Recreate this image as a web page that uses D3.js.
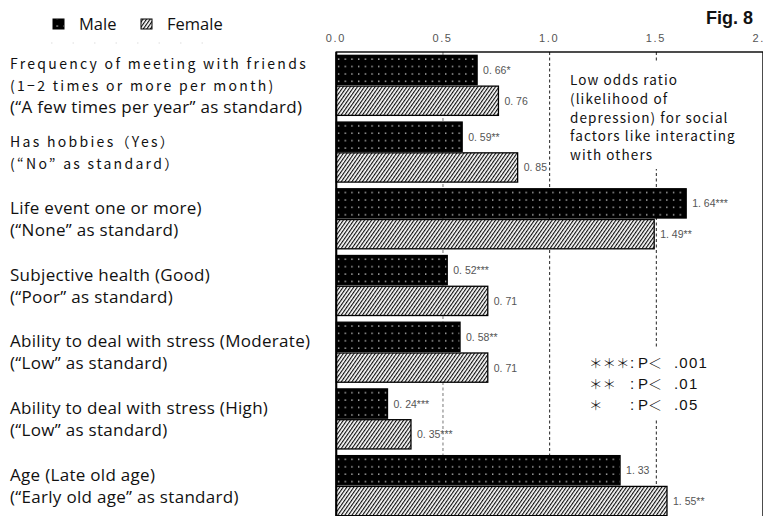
<!DOCTYPE html>
<html>
<head>
<meta charset="utf-8">
<script src="https://cdn.jsdelivr.net/npm/d3@7"></script>
<style>
  body { margin: 0; background: #fff; }
  svg { display: block; }
</style>
</head>
<body>
<svg id="chart" width="763" height="516"></svg>
<script>
// Factor labels (each entry is one factor, split into its printed lines)
const categories = [
  ["Frequency of meeting with friends", "(1−2 times or more per month)", "(“A few times per year” as standard)"],
  ["Has hobbies（Yes）", "(“No” as standard）"],
  ["Life event one or more)", "(“None” as standard)"],
  ["Subjective health (Good)", "(“Poor” as standard)"],
  ["Ability to deal with stress (Moderate)", "(“Low” as standard)"],
  ["Ability to deal with stress (High)", "(“Low” as standard)"],
  ["Age (Late old age)", "(“Early old age” as standard)"]
];

// Odds ratios and significance markers
const maleOdds    = [0.66, 0.59, 1.64, 0.52, 0.58, 0.24, 1.33];
const maleStars   = ["*", "**", "***", "***", "**", "***", ""];
const femaleOdds  = [0.76, 0.85, 1.49, 0.71, 0.71, 0.35, 1.55];
const femaleStars = ["", "", "**", "", "", "***", "**"];

const seriesNames = ["Male", "Female"];
const xTicks = [0, 0.5, 1.0, 1.5, 2.0];

const noteLines = [
  "Low odds ratio",
  "(likelihood of",
  "depression) for social",
  "factors like interacting",
  "with others"
];
const pLegendStars = ["＊＊＊", "＊＊", "＊"];
const pLegendValues = [".001", ".01", ".05"];

const figureTitle = "Fig. 8";

// ---------------------------------------------------------------
const svg = d3.select("#chart");
const plotTop = 52, plotBottom = 519;

const x = d3.scaleLinear().domain([0, 2]).range([336.3, 763]);
const y = d3.scaleBand()
  .domain(d3.range(categories.length))
  .range([plotTop, plotBottom])
  .paddingInner(0.1)
  .paddingOuter(0.05);
const ySub = d3.scaleBand()
  .domain(seriesNames)
  .range([0, y.bandwidth()])
  .paddingInner(0.05);

// Fill patterns: white dots on black (male), diagonal hatching (female)
const defs = svg.append("defs");
const dots = defs.append("pattern")
  .attr("id", "dots").attr("patternUnits", "userSpaceOnUse")
  .attr("width", 6.7).attr("height", 7.4);
dots.append("rect").attr("width", 6.7).attr("height", 7.4).attr("fill", "#000");
dots.append("rect").attr("x", 3).attr("y", 3.2).attr("width", 1.2).attr("height", 1.2).attr("fill", "#fff");

const hatch = defs.append("pattern")
  .attr("id", "hatch").attr("patternUnits", "userSpaceOnUse")
  .attr("width", 2.9).attr("height", 2.9)
  .attr("patternTransform", "rotate(35)");
hatch.append("rect").attr("width", 2.9).attr("height", 2.9).attr("fill", "#fff");
hatch.append("line").attr("x1", 0.6).attr("y1", 0).attr("x2", 0.6).attr("y2", 2.9)
  .attr("stroke", "#000").attr("stroke-width", 1.1);

const fillFor = { Male: "url(#dots)", Female: "url(#hatch)" };

// Legend
const legend = svg.append("g");
const legendX = [53, 141];
seriesNames.forEach((name, i) => {
  legend.append("rect")
    .attr("x", legendX[i]).attr("y", 19).attr("width", 11).attr("height", 10)
    .attr("fill", fillFor[name]).attr("stroke", "#000").attr("stroke-width", 1);
  legend.append("text")
    .attr("x", legendX[i] + 26).attr("y", 30)
    .attr("font-family", "'Open Sans', Lato, sans-serif").attr("font-size", 16.5)
    .attr("fill", "#111").text(name);
});
legend.append("line")
  .attr("x1", 51).attr("x2", 210).attr("y1", 43).attr("y2", 43)
  .attr("stroke", "#ddd").attr("stroke-width", 1.2).attr("stroke-dasharray", "1.5,20");

// Title
svg.append("text")
  .attr("x", 753).attr("y", 24).attr("text-anchor", "end")
  .attr("font-family", "'Liberation Sans', Arial, sans-serif")
  .attr("font-weight", "bold").attr("font-size", 18).attr("fill", "#111")
  .text(figureTitle);

// Top axis labels
const axis = d3.axisTop(x).tickValues(xTicks).tickSize(0).tickPadding(0)
  .tickFormat(d3.format(".1f"));
const axisG = svg.append("g").attr("transform", `translate(0,${plotTop - 10})`).call(axis);
axisG.select(".domain").remove();
axisG.selectAll("text")
  .attr("font-family", "'Liberation Sans', Arial, sans-serif")
  .attr("font-size", 11).attr("fill", "#555")
  .attr("letter-spacing", 1.6).attr("dx", -1).attr("dy", 0);

// Gridlines
svg.append("g").selectAll("line")
  .data(xTicks.filter(t => t > 0 && t < 2))
  .join("line")
  .attr("x1", d => x(d)).attr("x2", d => x(d))
  .attr("y1", plotTop).attr("y2", plotBottom)
  .attr("stroke", d => d === 0.5 ? "#777" : "#222")
  .attr("stroke-width", 1)
  .attr("stroke-dasharray", "3,2.5");

// Bars
const rows = categories.map((c, i) => ({
  i,
  values: [
    { series: "Male", value: maleOdds[i], stars: maleStars[i] },
    { series: "Female", value: femaleOdds[i], stars: femaleStars[i] }
  ]
}));

const groups = svg.append("g").selectAll("g")
  .data(rows).join("g")
  .attr("transform", d => `translate(0,${y(d.i)})`);

groups.selectAll("rect")
  .data(d => d.values).join("rect")
  .attr("x", x(0))
  .attr("y", d => ySub(d.series))
  .attr("width", d => x(d.value) - x(0))
  .attr("height", ySub.bandwidth())
  .attr("fill", d => fillFor[d.series])
  .attr("stroke", "#000").attr("stroke-width", 1.3);

const fmt = d3.format(".2f");
groups.selectAll("text.val")
  .data(d => d.values).join("text")
  .attr("class", "val")
  .attr("x", d => x(d.value) + 6)
  .attr("y", d => ySub(d.series) + ySub.bandwidth() / 2 + 4)
  .attr("font-family", "'Liberation Sans', Arial, sans-serif")
  .attr("font-size", 10.5).attr("fill", "#555")
  .text(d => fmt(d.value).replace(".", ". ") + d.stars);

// Plot frame
svg.append("rect")
  .attr("x", x(0)).attr("y", plotTop)
  .attr("width", x(2) - x(0)).attr("height", plotBottom - plotTop)
  .attr("fill", "none").attr("stroke", "#000").attr("stroke-width", 1.4);
svg.append("line")
  .attr("x1", x(0)).attr("x2", x(0)).attr("y1", plotTop).attr("y2", plotBottom)
  .attr("stroke", "#000").attr("stroke-width", 2);

// Category labels
const gothicLines = new Set([
  "Frequency of meeting with friends", "(1−2 times or more per month)",
  "Has hobbies（Yes）", "(“No” as standard）"
]);
const lineH = 22;
categories.forEach((lines, i) => {
  const cy = y(i) + y.bandwidth() / 2;
  lines.forEach((line, j) => {
    const gothic = gothicLines.has(line);
    svg.append("text")
      .attr("x", 10)
      .attr("y", cy + (j - (lines.length - 1) / 2) * lineH + 6)
      .attr("font-family", gothic ? "'Noto Sans CJK JP', sans-serif" : "'Open Sans', Lato, sans-serif")
      .attr("font-size", gothic ? 14 : 17)
      .attr("letter-spacing", gothic ? 2.3 : 0.3)
      .attr("fill", "#111")
      .text(line);
  });
});

// Note box
svg.append("rect").attr("x", 563).attr("y", 63).attr("width", 185).attr("height", 106).attr("fill", "#fff");
noteLines.forEach((line, j) => {
  svg.append("text")
    .attr("x", 570).attr("y", 85 + j * 18.8)
    .attr("font-family", "'Noto Sans CJK JP', sans-serif")
    .attr("font-size", 13.5).attr("letter-spacing", 1.1)
    .attr("fill", "#111").text(line);
});

// Significance legend
svg.append("rect").attr("x", 585).attr("y", 347).attr("width", 130).attr("height", 72).attr("fill", "#fff");
pLegendStars.forEach((s, j) => {
  const by = 368 + j * 21;
  const t = svg.append("text").attr("y", by).attr("fill", "#111");
  t.append("tspan").attr("x", 589).attr("font-size", 13.5)
    .attr("font-family", "'Noto Sans CJK JP', sans-serif").attr("font-weight", 300).text(s);
  t.append("tspan").attr("x", 630).attr("font-size", 15)
    .attr("font-family", "'Liberation Sans', Arial, sans-serif").text(":");
  t.append("tspan").attr("x", 638).attr("font-size", 15)
    .attr("font-family", "'Liberation Sans', Arial, sans-serif").text("P");
  t.append("tspan").attr("x", 648).attr("font-size", 14)
    .attr("font-family", "'Noto Sans CJK JP', sans-serif").attr("font-weight", 300).text("＜");
  t.append("tspan").attr("x", 674).attr("font-size", 15).attr("letter-spacing", 1.2)
    .attr("font-family", "'Liberation Sans', Arial, sans-serif").text(pLegendValues[j]);
});
</script>
</body>
</html>
